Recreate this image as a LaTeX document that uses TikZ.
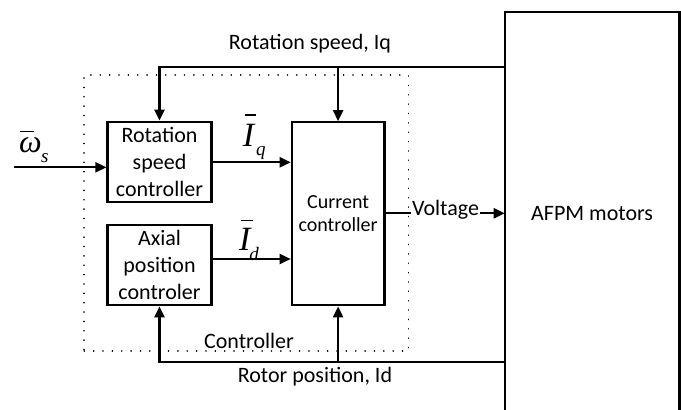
\documentclass[tikz,border=0pt]{standalone}
\usepackage{fontspec}
\setmainfont{Carlito}
\newfontfamily\tms{Liberation Serif}
\newcommand\ovl[3]{\makebox[0pt][l]{\kern#1\rule[#2]{#3}{1.5pt}}}
\newcommand\subsc[2]{\raisebox{#1}{\fontsize{19}{19}\selectfont #2}}
\usetikzlibrary{arrows.meta}
\begin{document}
\begin{tikzpicture}[x=1pt,y=-1pt,
  line width=2.2pt,
  every node/.style={font=\fontsize{22}{27}\selectfont, inner sep=0pt},
  blk/.style={draw, line width=2.2pt, align=center},
  arr/.style={-{Triangle[length=11pt,width=10pt]}},
  mathlbl/.style={anchor=base west, font=\tms\itshape\fontsize{34}{34}\selectfont},
  dots/.style={draw, line width=1.7pt, line cap=round, dash pattern=on 0.01pt off 9.35pt}
]
\useasboundingbox (0,0) rectangle (681,410);

% blocks
\node[blk, minimum width=104, minimum height=80.6] (rs) at (159.5,162) {Rotation\\speed\\controller};
\node[blk, minimum width=104, minimum height=80] (ap) at (159.5,265.3) {Axial\\position\\controler};
\node[blk, minimum width=92.6, minimum height=183, font=\fontsize{20}{23.5}\selectfont] (cc) at (338.1,213.8) {Current\\controller};
\node[minimum width=172.6, minimum height=401.2] (afpm) at (592.1,213.3) {AFPM motors};
\coordinate (bot) at (0,410);
\draw (afpm.west |- bot) -- (afpm.north west) -- (afpm.north east) -- (afpm.east |- bot);

% dotted controller frame
\node[dots, minimum width=324.1, minimum height=275.7] (frame) at (246.35,213.15) {};
\node (ctrl) at (249,340.7) {Controller};

% top feedback
\coordinate (topy) at (0,67.3);
\draw[arr] (afpm.west |- topy) -- (rs.north |- topy) -- (rs.north);
\draw[arr] (cc.north |- topy) -- (cc.north);
\node (rsl) at (310,43.3) {Rotation speed, Iq};

% bottom feedback
\coordinate (boty) at (0,362.3);
\draw[arr] (afpm.west |- boty) -- (ap.south |- boty) -- (ap.south);
\draw[arr] (cc.south |- boty) -- (cc.south);
\node (rpl) at (315,376.7) {Rotor position, Id};

% reference input
\coordinate (win) at (14.4,167.3);
\draw[arr] (win) -- (rs.west |- win);
\node[mathlbl, font=\tms\itshape\fontsize{32}{32}\selectfont] (wl) at (18,152) {\ovl{1pt}{20pt}{14pt}ω\kern-0.5pt\subsc{-10pt}{s}};

% current references
\draw[arr] (rs.east |- 0,162.3) -- (cc.west |- 0,162.3);
\node[mathlbl] (iql) at (241.7,146.7) {\ovl{2pt}{31pt}{11.5pt}I\kern2pt\subsc{-8.3pt}{q}};
\coordinate (idy) at (0,259);
\draw[arr] (ap.east |- idy) -- (cc.west |- idy);
\node[mathlbl] (idl) at (238,250) {\ovl{2pt}{29pt}{12pt}I\kern-1pt\subsc{-10pt}{d}};

% voltage
\node[anchor=mid] (volt) at (445.5,213.3) {Voltage};
\draw (cc.east |- volt.mid west) -- (volt.mid west);
\draw[arr] (volt.mid east) -- (afpm.west |- volt.mid east);
\end{tikzpicture}
\end{document}
